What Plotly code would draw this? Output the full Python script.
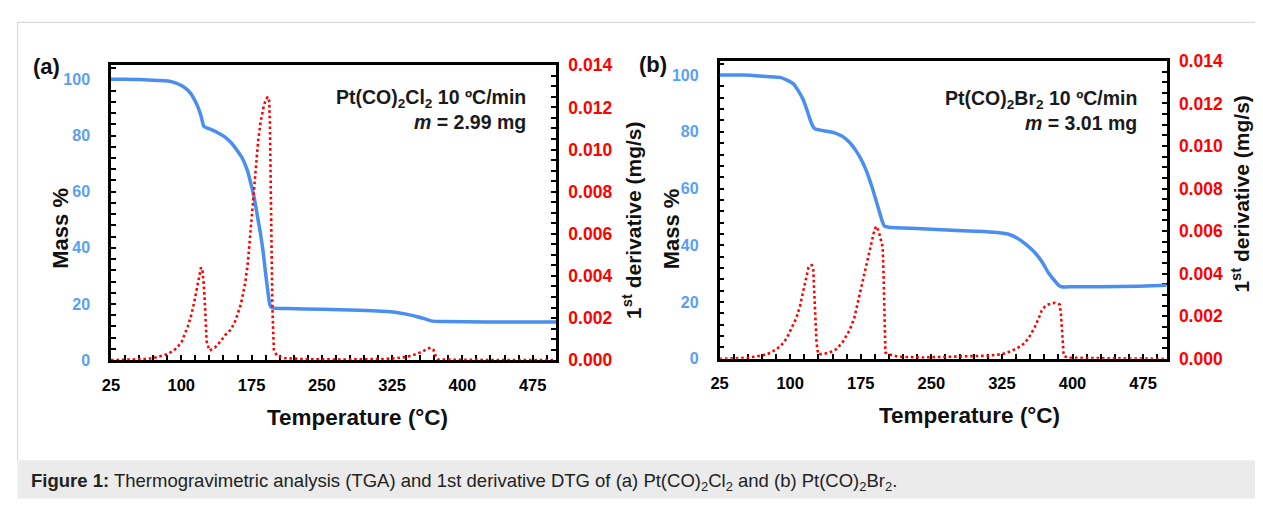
import plotly.graph_objects as go

# The page body keeps its default 8px margin; the figure starts at (8, 8) in the window
# and is sized so the whole page is exactly the window size.
PAGE_W, PAGE_H, BODY_MARGIN = 1263, 507, 8
FW, FH = PAGE_W - 2 * BODY_MARGIN, PAGE_H - 2 * BODY_MARGIN
FONT = "Liberation Sans, Arial, sans-serif"
BLUE = "#4a8ff0"
BLUE_LABEL = "#5a9ff2"
RED = "#ff0000"

# ---------------- data ----------------
x_tick_start, x_tick_step = 25, 75
temp_range = [25, 500]
mass_range = [0, 105]
dtg_range = [0, 0.014]

# (temperature °C, mass %) for Pt(CO)2Cl2
cl_mass = [(25, 100.0), (40, 100.0), (55, 99.9), (65, 99.8), (75, 99.6), (86, 99.4), (93, 98.8),
           (100, 97.8), (105, 96.7), (110, 95.0), (114, 92.8), (117.5, 90.4), (121, 87.0),
           (124, 83.3), (128, 82.6), (132, 82.1), (139, 81.0), (146, 79.6), (153, 77.5),
           (160, 74.5), (165, 72.0), (170.5, 67.6), (175.8, 60.8), (178, 57.5), (181, 51.8),
           (184.6, 44.9), (187, 39.5), (189.9, 31.2), (192, 25.5), (194.5, 19.8), (196.5, 18.7),
           (200, 18.5), (213, 18.4), (250, 18.1), (290, 17.8), (318.8, 17.3), (330, 17.0),
           (340, 16.4), (354, 15.3), (362, 14.5), (368.3, 13.9), (380, 13.8), (425, 13.6),
           (500, 13.6)]

# (temperature °C, 1st derivative mg/s) for Pt(CO)2Cl2
cl_dtg = [(25, 0.0), (45, 0.00002), (65, 0.00006), (75, 0.00015), (86, 0.0003), (93, 0.0005),
          (100, 0.00082), (107, 0.0016), (111, 0.0022), (114, 0.0028), (117, 0.0035),
          (119.5, 0.0041), (121, 0.0044), (122.5, 0.0043), (124, 0.0036), (125.5, 0.0024),
          (127, 0.0009), (130, 0.00046), (136, 0.0006), (142, 0.0009), (147, 0.0012),
          (153, 0.00145), (158, 0.0019), (163.5, 0.00264), (168, 0.0036), (171, 0.0046),
          (174, 0.0062), (177, 0.0079), (179.3, 0.0092), (182, 0.0104), (184.6, 0.0113),
          (186.5, 0.0118), (188.2, 0.0121), (190.5, 0.0124), (192.4, 0.0125), (193.8, 0.0123),
          (194.6, 0.0112), (195.4, 0.0085), (196.2, 0.0055), (197.2, 0.0025), (198.8, 0.0005),
          (202, 0.0002), (210, 0.0001), (230, 0.00005), (270, 0.00003), (300, 0.00004),
          (318, 0.00006), (330, 0.0001), (340, 0.00015), (350, 0.00028), (357, 0.0004),
          (363, 0.00055), (366, 0.00059), (369, 0.0005), (371, 0.00025), (374, 0.00003),
          (400, 0.00001), (450, 0.0), (500, 0.0)]

# (temperature °C, mass %) for Pt(CO)2Br2
br_mass = [(25, 100.0), (50, 100.0), (75, 99.5), (89.3, 99.2), (96, 98.3), (103.4, 96.9),
           (108, 94.8), (113.9, 91.3), (118, 87.5), (121, 84.5), (124, 82.0), (126.3, 81.1),
           (132, 80.6), (142, 80.0), (150, 79.3), (156, 78.3), (163, 76.3), (170.2, 73.2),
           (175.5, 70.2), (180.7, 66.5), (184.5, 63.0), (187.8, 59.7), (191.5, 55.5),
           (194.8, 51.8), (198, 48.3), (200.1, 46.8), (205, 46.4), (219.4, 46.1), (250, 45.7),
           (272, 45.3), (300, 45.0), (320, 44.5), (332, 43.9), (341, 42.6), (349.5, 40.6),
           (357, 38.4), (363.6, 36.0), (369, 33.4), (374.2, 30.4), (380, 27.9), (385, 26.0),
           (388.2, 25.4), (400, 25.4), (430, 25.4), (470, 25.6), (500, 25.9)]

# (temperature °C, 1st derivative mg/s) for Pt(CO)2Br2
br_dtg = [(25, 0.0), (45, 0.00002), (55, 0.00005), (64.7, 0.00012), (75, 0.0002), (82.3, 0.00037),
          (90, 0.0006), (96.3, 0.00097), (101, 0.0014), (106.9, 0.00195), (110.5, 0.0025),
          (113.9, 0.00315), (117, 0.0038), (119.5, 0.0043), (121, 0.00439), (123, 0.0044),
          (124.5, 0.0042), (126.3, 0.00255), (128, 0.00075), (129.7, 0.00022), (135, 0.00022),
          (142, 0.0003), (149, 0.00045), (156, 0.0008), (163.2, 0.00135), (168, 0.0019),
          (173.7, 0.003), (177.5, 0.0037), (180.7, 0.00435), (183.5, 0.0049), (186, 0.0054),
          (188.7, 0.0059), (191.2, 0.00623), (193, 0.0061), (194.8, 0.00586), (197, 0.0055),
          (198.3, 0.00526), (199.2, 0.004), (200.1, 0.00255), (200.8, 0.0012), (201.2, 0.0003),
          (205.4, 0.0002), (215, 0.0001), (240, 0.00006), (280, 0.0001), (300, 0.00012),
          (310.9, 0.00015), (325, 0.00022), (335.4, 0.00037), (343, 0.00055), (349.5, 0.00075),
          (355, 0.0011), (360, 0.0015), (364, 0.0019), (367.1, 0.00225), (370.5, 0.00245),
          (374.2, 0.00255), (378, 0.0026), (381.1, 0.00263), (384, 0.0026), (386.4, 0.00255),
          (387.7, 0.0021), (388.9, 0.0015), (389.8, 0.0007), (390.6, 0.00015), (395, 0.00005),
          (430, 0.00003), (470, 0.00002), (500, 0.0)]

panel_labels = ["(a)", "(b)"]
sample_lines = ["Pt(CO)<sub>2</sub>Cl<sub>2</sub> 10 ºC/min", "Pt(CO)<sub>2</sub>Br<sub>2</sub> 10 ºC/min"]
mass_lines = ["<i>m</i> = 2.99 mg", "<i>m</i> = 3.01 mg"]
x_title = "Temperature (°C)"
y_title = "Mass %"
y2_title = "1<sup>st</sup> derivative (mg/s)"
caption = ("<b>Figure 1:</b> Thermogravimetric analysis (TGA) and 1st derivative DTG of "
           "(a) Pt(CO)<sub>2</sub>Cl<sub>2</sub> and (b) Pt(CO)<sub>2</sub>Br<sub>2</sub>.")


# ---------------- helpers (page pixel -> paper fraction) ----------------
def fx(px):
    return (px - BODY_MARGIN) / FW


def fy(py):
    return 1 - (py - BODY_MARGIN) / FH


def unzip(pairs):
    return [p[0] for p in pairs], [p[1] for p in pairs]


# panel boxes in page pixels (left, right, top, bottom)
boxes = [(102.7, 551.0, 57.3, 364.7), (715.7, 1166.0, 52.7, 363.3)]

fig = go.Figure()

series = [(cl_mass, cl_dtg), (br_mass, br_dtg)]
axis_names = [("x", "y", "y2"), ("x2", "y3", "y4")]

for (mass, dtg), (xa, ya, ya2) in zip(series, axis_names):
    tx, ty = unzip(mass)
    fig.add_trace(go.Scatter(x=tx, y=ty, xaxis=xa, yaxis=ya, mode="lines",
                             line=dict(color=BLUE, width=3.5, shape="spline", smoothing=0.5),
                             cliponaxis=False, hoverinfo="skip", showlegend=False))
    dx, dy = unzip(dtg)
    fig.add_trace(go.Scatter(x=dx, y=dy, xaxis=xa, yaxis=ya2, mode="lines",
                             line=dict(color=RED, width=2.6, dash="2.6px,2.8px"), cliponaxis=False,
                             hoverinfo="skip", showlegend=False))

common = dict(showgrid=False, zeroline=False, showline=True, linecolor="black", linewidth=2.5,
              ticks="inside", ticklen=5, tickwidth=1.5, tickcolor="black", layer="below traces")

layout = dict(width=FW, height=FH, margin=dict(l=0, r=0, t=0, b=0),
              paper_bgcolor="white", plot_bgcolor="white", showlegend=False)

for i, (xa, ya, ya2) in enumerate(axis_names):
    l, r, t, b = boxes[i]
    xk = "xaxis" if i == 0 else "xaxis2"
    yk = "yaxis" if i == 0 else "yaxis3"
    y2k = "yaxis2" if i == 0 else "yaxis4"
    layout[xk] = dict(common, domain=[fx(l), fx(r)], anchor=ya, range=temp_range, mirror=True,
                      tick0=x_tick_start, dtick=x_tick_step, ticklabelstandoff=8,
                      tickfont=dict(family=FONT, size=16.5, color="black", weight="bold"),
                      minor=dict(ticks="inside", ticklen=5, tickwidth=1.5, tickcolor="black",
                                 dtick=15, tick0=25, showgrid=False))
    layout[yk] = dict(common, domain=[fy(b), fy(t)], anchor=xa, range=mass_range,
                      tick0=0, dtick=20, ticklabelstandoff=15,
                      tickfont=dict(family=FONT, size=16, color=BLUE_LABEL, weight="bold"),
                      minor=dict(ticks="inside", ticklen=5, tickwidth=1.5, tickcolor="black",
                                 dtick=4, tick0=0, showgrid=False))
    layout[y2k] = dict(common, domain=[fy(b), fy(t)], anchor=xa, overlaying=ya, side="right",
                       range=dtg_range, tick0=0, dtick=0.002, tickformat=".3f", ticklabelstandoff=6,
                       tickfont=dict(family=FONT, size=17.5, color=RED, weight="bold"),
                       minor=dict(ticks="inside", ticklen=5, tickwidth=1.5, tickcolor="black",
                                  dtick=0.0005, tick0=0, showgrid=False))

fig.update_layout(**layout)

ann = []
# panel-dependent text positions (page pixels)
label_pos = [(38, 59), (649, 56)]
note_pos = [(523, 91.7, 116.7), (1138, 93.3, 117.3)]
xt_pos = [(351, 424), (967, 422)]
yt_pos = [(51, 227), (667, 228)]
y2t_pos = [(628, 219), (1240, 192)]

for i in range(2):
    ann.append(dict(text=f"<b>{panel_labels[i]}</b>", x=fx(label_pos[i][0]), y=fy(label_pos[i][1]),
                    xref="paper", yref="paper", showarrow=False, xanchor="center", yanchor="middle",
                    font=dict(family=FONT, size=22, color="#111")))
    ann.append(dict(text=f"<b>{sample_lines[i]}</b>", x=fx(note_pos[i][0]), y=fy(note_pos[i][1]),
                    xref="paper", yref="paper", showarrow=False, xanchor="right", yanchor="middle",
                    font=dict(family=FONT, size=19.5, color="#1a1a1a")))
    ann.append(dict(text=f"<b>{mass_lines[i]}</b>", x=fx(note_pos[i][0]), y=fy(note_pos[i][2]),
                    xref="paper", yref="paper", showarrow=False, xanchor="right", yanchor="middle",
                    font=dict(family=FONT, size=19.5, color="#1a1a1a")))
    ann.append(dict(text=f"<b>{x_title}</b>", x=fx(xt_pos[i][0]), y=fy(xt_pos[i][1]),
                    xref="paper", yref="paper", showarrow=False, xanchor="center", yanchor="middle",
                    font=dict(family=FONT, size=22.5, color="#111")))
    ann.append(dict(text=f"<b>{y_title}</b>", x=fx(yt_pos[i][0]), y=fy(yt_pos[i][1]), textangle=-90,
                    xref="paper", yref="paper", showarrow=False, xanchor="center", yanchor="middle",
                    font=dict(family=FONT, size=22, color="#111")))
    ann.append(dict(text=f"<b>{y2_title}</b>", x=fx(y2t_pos[i][0]), y=fy(y2t_pos[i][1]), textangle=-90,
                    xref="paper", yref="paper", showarrow=False, xanchor="center", yanchor="middle",
                    borderpad=0, font=dict(family=FONT, size=21, color="#111")))

ann.append(dict(text=caption, x=fx(20), y=fy(492), xref="paper", yref="paper", showarrow=False,
                xanchor="left", yanchor="middle", font=dict(family=FONT, size=18.5, color="#222")))

shapes = [
    dict(type="rect", xref="paper", yref="paper", x0=fx(8.5), x1=1.01, y0=-0.02, y1=fy(469),
         fillcolor="#ebebeb", line=dict(width=0), layer="below"),
    dict(type="line", xref="paper", yref="paper", x0=fx(8.5), x1=1.01, y0=fy(12.5), y1=fy(12.5),
         line=dict(color="#dadada", width=1.2)),
    dict(type="line", xref="paper", yref="paper", x0=fx(8.5), x1=fx(8.5), y0=fy(12.5), y1=fy(469),
         line=dict(color="#dadada", width=1.2)),
]

fig.update_layout(annotations=ann, shapes=shapes)

fig.write_html("out.html", config={"displayModeBar": False})
